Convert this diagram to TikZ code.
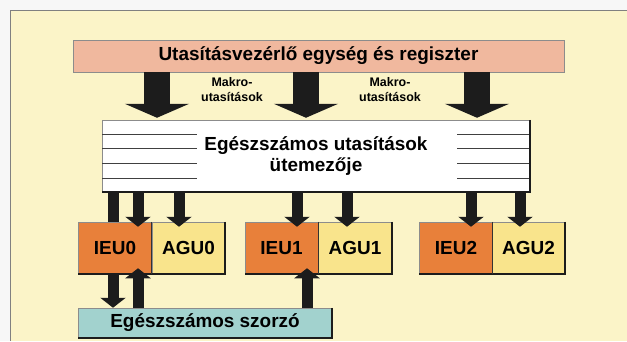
\documentclass[tikz,border=0pt]{standalone}
\usepackage{fontspec}
\setmainfont{Liberation Sans}
\usetikzlibrary{arrows.meta}
\definecolor{bgyellow}{RGB}{251,244,200}
\definecolor{ctrlpink}{RGB}{240,184,158}
\definecolor{ieuorange}{RGB}{232,128,58}
\definecolor{aguyellow}{RGB}{249,228,140}
\definecolor{multeal}{RGB}{162,210,206}
\definecolor{arrowblack}{RGB}{28,28,28}
\begin{document}
\begin{tikzpicture}[x=1bp,y=-1bp,
  box/.style={inner sep=0pt,draw=black!45,line width=0.5bp,font=\bfseries\fontsize{19}{21}\selectfont},
  unit/.style={box,minimum width=73bp,minimum height=52bp},
  lbl/.style={inner sep=0pt,align=center,font=\bfseries\fontsize{12.5}{15}\selectfont},
  shade/.style={draw=arrowblack,line width=1.8bp},
  bigarrow/.style={draw=arrowblack,line width=26bp,-{Triangle[width=64bp,length=14bp]}},
  busarrow/.style={draw=arrowblack,line width=11bp,-{Triangle[width=25bp,length=10bp]}},
  busbar/.style={draw=arrowblack,line width=11bp}]
\useasboundingbox (0,0) rectangle (627,341);
\fill[black!3] (0,0) rectangle (627,341);
\fill[bgyellow] (10,10) rectangle (627,341);
\draw[black!50,line width=1bp] (10,341) -- (10,10) -- (627,10);
% control unit and scheduler
\node[box,fill=ctrlpink,minimum width=491bp,minimum height=32bp] (ctrl) at (318.5,56) {Utasításvezérlő egység és regiszter};
\node[box,fill=white,minimum width=428bp,minimum height=72bp,align=center] (sched) at (316,156) {Egészszámos utasítások\\ütemezője};
\draw[black!75,line width=1bp] (102,134) -- (197,134);
\draw[black!75,line width=1bp] (102,148) -- (197,148);
\draw[black!75,line width=1bp] (102,163) -- (197,163);
\draw[black!75,line width=1bp] (102,178) -- (197,178);
\draw[black!75,line width=1bp] (457,134) -- (530,134);
\draw[black!75,line width=1bp] (457,148) -- (530,148);
\draw[black!75,line width=1bp] (457,163) -- (530,163);
\draw[black!75,line width=1bp] (457,178) -- (530,178);
\draw[shade] (sched.north east) -- (sched.south east) -- (sched.south west);
\node[lbl] (lbla) at (232,90) {Makro-\\utasítások};
\node[lbl] (lblb) at (390,90) {Makro-\\utasítások};
% execution units
\node[unit,fill=ieuorange] (ieu0) at (115,248) {IEU0};
\node[unit,fill=aguyellow] (agu0) at (188.5,248) {AGU0};
\node[unit,fill=ieuorange] (ieu1) at (281.5,248) {IEU1};
\node[unit,fill=aguyellow] (agu1) at (355,248) {AGU1};
\node[unit,fill=ieuorange] (ieu2) at (456,248) {IEU2};
\node[unit,fill=aguyellow] (agu2) at (528.5,248) {AGU2};
\node[box,fill=multeal,minimum width=254bp,minimum height=30bp] (mul) at (205,323) {Egészszámos szorzó};
\draw[shade] (agu0.north east) -- (agu0.south east) -- (ieu0.south west);
\draw[shade] (agu1.north east) -- (agu1.south east) -- (ieu1.south west);
\draw[shade] (agu2.north east) -- (agu2.south east) -- (ieu2.south west);
\draw[shade] (mul.north east) -- (mul.south east) -- (mul.south west);
\draw[black!80,line width=0.8bp] (ieu0.north east) -- (ieu0.south east);
\draw[black!80,line width=0.8bp] (ieu1.north east) -- (ieu1.south east);
\draw[black!80,line width=0.8bp] (ieu2.north east) -- (ieu2.south east);
% arrows
\coordinate (k1) at (157,0);
\coordinate (k2) at (306,0);
\coordinate (k3) at (477,0);
\draw[bigarrow,shorten >=2bp] (ctrl.south -| k1) -- (sched.north -| k1);
\draw[bigarrow,shorten >=2bp] (ctrl.south -| k2) -- (sched.north -| k2);
\draw[bigarrow,shorten >=2bp] (ctrl.south -| k3) -- (sched.north -| k3);
\coordinate (b1) at (113,0);
\coordinate (b2) at (138,0);
\coordinate (b3) at (179,0);
\coordinate (b4) at (297,0);
\coordinate (b5) at (347,0);
\coordinate (b6) at (471,0);
\coordinate (b7) at (520,0);
\coordinate (b8) at (307,0);
\draw[busbar] (sched.south -| b1) -- (ieu0.north -| b1);
\draw[busarrow,shorten >=-5bp] (sched.south -| b2) -- (ieu0.north -| b2);
\draw[busarrow,shorten >=-5bp] (sched.south -| b3) -- (agu0.north -| b3);
\draw[busarrow,shorten >=-5bp] (sched.south -| b4) -- (ieu1.north -| b4);
\draw[busarrow,shorten >=-5bp] (sched.south -| b5) -- (agu1.north -| b5);
\draw[busarrow,shorten >=-5bp] (sched.south -| b6) -- (ieu2.north -| b6);
\draw[busarrow,shorten >=-5bp] (sched.south -| b7) -- (agu2.north -| b7);
\draw[busarrow] (ieu0.south -| b1) -- (mul.north -| b1);
\draw[busarrow,shorten >=-6bp] (mul.north -| b2) -- (ieu0.south -| b2);
\draw[busarrow,shorten >=-6bp] (mul.north -| b8) -- (ieu1.south -| b8);
\end{tikzpicture}
\end{document}
